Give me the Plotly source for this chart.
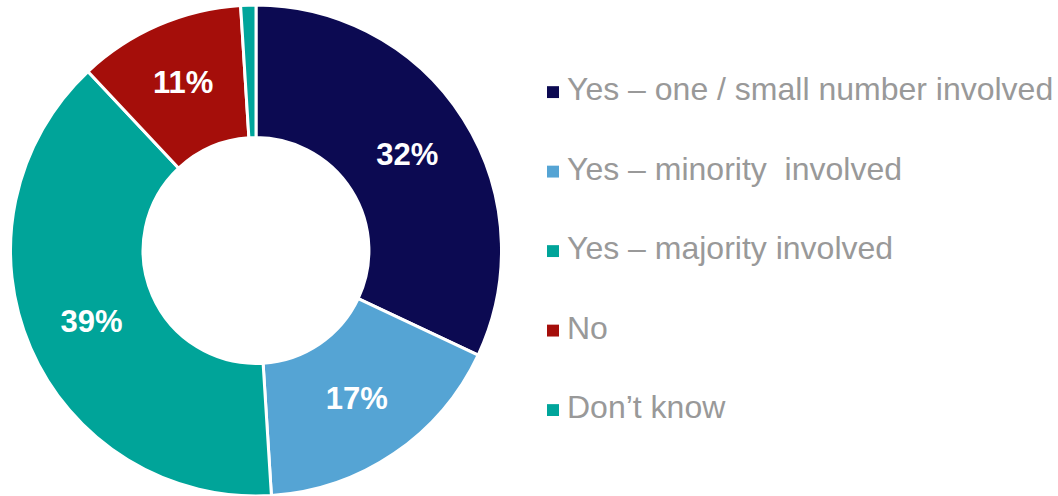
import plotly.graph_objects as go

# Survey responses (percent of respondents)
categories = [
    "Yes – one / small number involved",
    "Yes – minority  involved",
    "Yes – majority involved",
    "No",
    "Don’t know",
]
shares = [32, 17, 39, 11, 1]
colors = ["#0C0A52", "#55A4D4", "#00A499", "#A50E0A", "#00A59B"]

# Show a percent label only on slices large enough to hold one
slice_text = [f"{v}%" if v >= 5 else "" for v in shares]

W, H = 1058, 496

fig = go.Figure(
    go.Pie(
        labels=categories,
        values=shares,
        text=slice_text,
        textinfo="text",
        textposition="inside",
        insidetextorientation="horizontal",
        insidetextfont=dict(family="Liberation Sans, Arial, sans-serif",
                            size=31, color="white", weight="bold"),
        marker=dict(colors=colors, line=dict(color="white", width=3)),
        hole=0.46,
        sort=False,
        direction="clockwise",
        rotation=0,
        domain=dict(x=[0, 512 / W], y=[0, 1]),
        showlegend=False,
        hoverinfo="label+percent",
    )
)

# Legend drawn as square swatches plus labels, one row per category
legend_x_swatch = 547
legend_x_text = 565
row0_y = 88
row_step = 80.3
swatch = 12
for i, (name, col) in enumerate(zip(categories, colors)):
    yc = row0_y + i * row_step
    fig.add_shape(
        type="rect", xref="paper", yref="paper",
        x0=legend_x_swatch / W, x1=(legend_x_swatch + swatch) / W,
        y0=1 - (yc + swatch / 2) / H, y1=1 - (yc - swatch / 2) / H,
        fillcolor=col, line=dict(width=0),
    )
    fig.add_annotation(
        xref="paper", yref="paper",
        x=legend_x_text / W, y=1 - (yc - 3) / H,
        xanchor="left", yanchor="middle",
        text=name, showarrow=False,
        font=dict(family="Liberation Sans, Arial, sans-serif", size=32, color="#999999"),
    )

fig.update_layout(
    width=W, height=H,
    margin=dict(l=0, r=0, t=5, b=0),
    paper_bgcolor="white",
    plot_bgcolor="white",
)

fig.write_html("out.html")
